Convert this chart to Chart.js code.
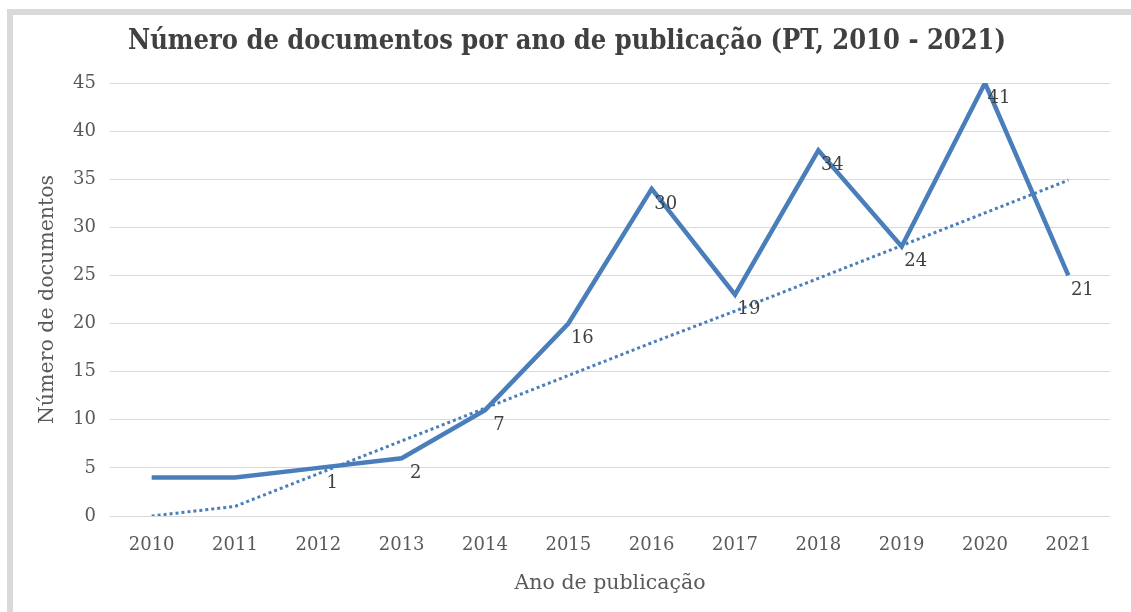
<!DOCTYPE html>
<html>
<head>
<meta charset="utf-8">
<script src="https://cdn.jsdelivr.net/npm/chart.js@4/dist/chart.umd.min.js"></script>
<style>
  html, body { margin: 0; padding: 0; background: #fff; }
  #wrap { position: relative; width: 1131px; height: 612px; overflow: hidden; }
  #frame-top { position: absolute; left: 7px; top: 9px; width: 1124px; height: 6px; background: #d9d9d9; }
  #frame-left { position: absolute; left: 7px; top: 9px; width: 6px; height: 603px; background: #d9d9d9; }
  #myChart { position: absolute; left: 0; top: 0; }
</style>
</head>
<body>
<div id="wrap">
  <canvas id="myChart" width="1131" height="612"></canvas>
  <div id="frame-top"></div>
  <div id="frame-left"></div>
</div>
<script>
// data
const years = ["2010", "2011", "2012", "2013", "2014", "2015", "2016", "2017", "2018", "2019", "2020", "2021"];
const docs = [4, 4, 5, 6, 11, 20, 34, 23, 38, 28, 45, 25];
const pointLabels = [null, null, 1, 2, 7, 16, 30, 19, 34, 24, 41, 21];
const trend = [0, 1, 4.4, 7.8, 11.2, 14.6, 18.0, 21.3, 24.7, 28.1, 31.5, 34.9];
const yTicks = [0, 5, 10, 15, 20, 25, 30, 35, 40, 45];
const chartTitle = 'Número de documentos por ano de publicação (PT, 2010 - 2021)';

const blue = '#4a7ebb';
const serif = "'DejaVu Serif', serif";

// title + labels below-right of each point
const labelPlugin = {
  id: 'pointLabels',
  afterDatasetsDraw(chart) {
    const ctx = chart.ctx;
    const meta = chart.getDatasetMeta(0);
    ctx.save();
    ctx.font = "18px " + serif;
    ctx.fillStyle = '#404040';
    ctx.textAlign = 'center';
    ctx.textBaseline = 'middle';
    meta.data.forEach((pt, i) => {
      if (pointLabels[i] === null) return;
      ctx.fillText(String(pointLabels[i]), pt.x + 14, pt.y + 15);
    });
    ctx.font = "bold 27px 'DejaVu Serif Condensed', 'Liberation Serif', serif";
    ctx.fillText(chartTitle, 567, 42);
    ctx.restore();
  }
};

var ctx = document.getElementById('myChart').getContext('2d');
var myChart = new Chart(ctx, {
  type: 'line',
  data: {
    labels: years,
    datasets: [{
      label: 'Documentos',
      data: docs,
      borderColor: blue,
      borderWidth: 4.5,
      pointRadius: 0,
      tension: 0,
      borderJoinStyle: 'miter'
    }, {
      label: 'Tendência',
      data: trend,
      borderColor: blue,
      borderWidth: 3,
      borderDash: [3, 3],
      pointRadius: 0,
      tension: 0
    }]
  },
  options: {
    responsive: false,
    animation: false,
    layout: { padding: { left: 0, right: 21, top: 83, bottom: 0 } },
    plugins: {
      legend: { display: false },
      tooltip: { enabled: false },
      title: { display: false }
    },
    scales: {
      x: {
        offset: true,
        grid: { display: false, drawTicks: false },
        border: { display: false },
        ticks: { color: '#595959', font: { family: serif, size: 18 }, padding: 19 },
        title: {
          display: true,
          text: 'Ano de publicação',
          color: '#595959',
          font: { family: serif, size: 20.5 },
          padding: { top: 0, bottom: 16 }
        },
        afterFit(scale) { scale.height = 96; }
      },
      y: {
        min: 0,
        max: 45,
        afterBuildTicks(scale) { scale.ticks = yTicks.map(v => ({ value: v })); },
        grid: { color: '#d9d9d9', lineWidth: 1, drawTicks: false },
        border: { display: false },
        ticks: { color: '#595959', font: { family: serif, size: 18 }, padding: 14 },
        title: {
          display: true,
          text: 'Número de documentos',
          color: '#595959',
          font: { family: serif, size: 20.5 },
          padding: { top: 35, bottom: 0 }
        },
        afterFit(scale) { scale.width = 110; }
      }
    }
  },
  plugins: [labelPlugin]
});
</script>
</body>
</html>
